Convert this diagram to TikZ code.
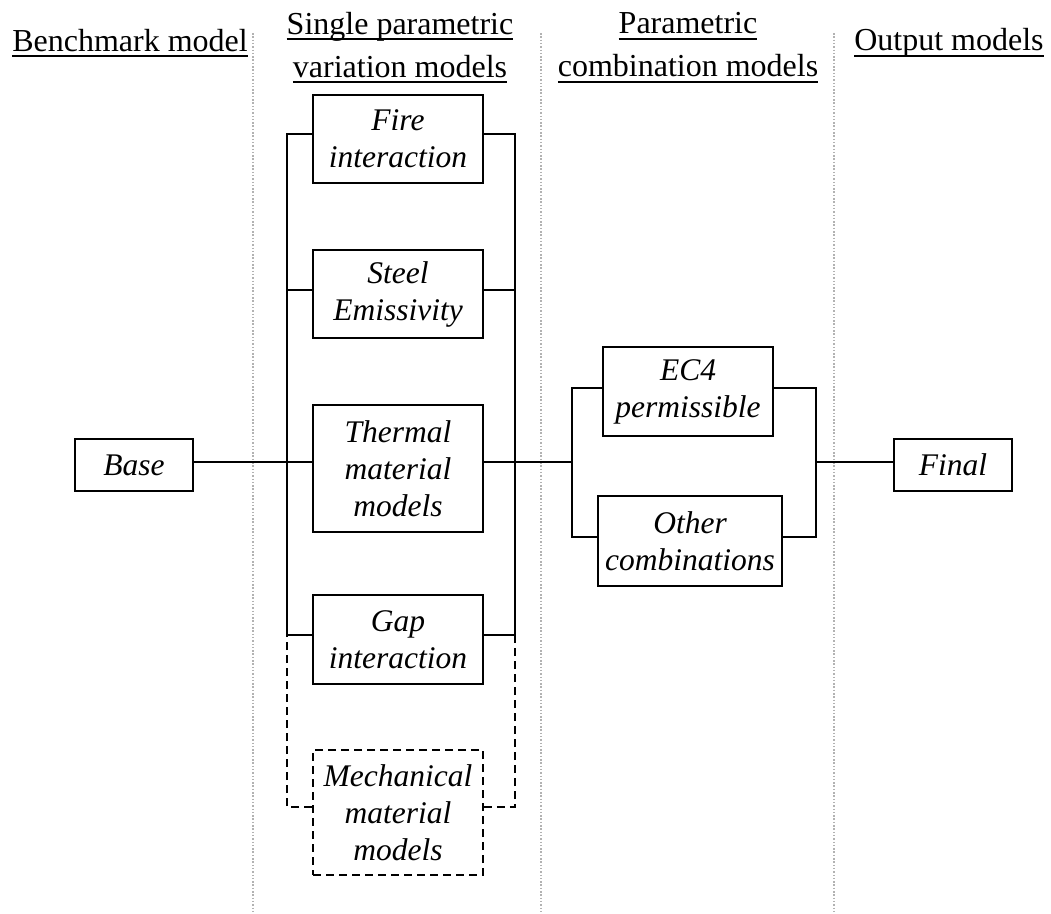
\documentclass[tikz,border=0pt]{standalone}
\usepackage{fontspec}
\setmainfont{Liberation Serif}
\newcommand\bxfont{\fontsize{31.5}{37}\selectfont\itshape}
\newcommand\myhdfont{\fontsize{32}{43}\selectfont}
\newcommand\hdul[1]{\setbox0\hbox{#1}\rlap{\rule[-6pt]{\wd0}{2pt}}\box0}
\begin{document}
\begin{tikzpicture}[x=1pt,y=-1pt,
  box/.style={draw, line width=1.9pt, font=\bxfont, align=center, inner sep=0pt},
  dbox/.style={box, dash pattern=on 8pt off 5pt},
  wire/.style={line width=1.9pt},
  dwire/.style={line width=1.9pt, dash pattern=on 8pt off 5pt},
  sep/.style={draw=gray!60, line width=1.5pt, dash pattern=on 1.5pt off 1.8pt},
  hd/.style={font=\myhdfont, align=center, inner sep=0pt}]
\useasboundingbox (0,0) rectangle (1051,913);

% separators
\draw[sep] (253,33) -- (253,913);
\draw[sep] (541,33) -- (541,913);
\draw[sep] (834,33) -- (834,913);

% headers
\node[hd] (h1) at (130,43) {\hdul{Benchmark model}};
\node[hd] (h2) at (400,47.5) {\hdul{Single parametric}\\\hdul{variation models}};
\node[hd] (h3) at (688,47.5) {\hdul{Parametric}\\\hdul{combination models}};
\node[hd] (h4) at (949,43) {\hdul{Output models}};

% boxes
\node[box, minimum width=118pt, minimum height=52pt] (base) at (134,465) {Base};
\node[box, minimum width=170pt, minimum height=88pt] (fire) at (398,139) {Fire\\interaction};
\node[box, minimum width=170pt, minimum height=88pt] (steel) at (398,294) {Steel\\Emissivity};
\node[box, minimum width=170pt, minimum height=127pt] (thermal) at (398,468.5) {Thermal\\material\\models};
\node[box, minimum width=170pt, minimum height=89pt] (gap) at (398,639.5) {Gap\\interaction};
\node[dbox, minimum width=170pt, minimum height=125pt] (mech) at (398,812.5) {Mechanical\\material\\models};
\node[box, minimum width=170pt, minimum height=89pt] (ec4) at (688,391.5) {EC4\\permissible};
\node[box, minimum width=184pt, minimum height=90pt] (other) at (690,541) {Other\\combinations};
\node[box, minimum width=118pt, minimum height=52pt] (final) at (953,465) {Final};

% bus coordinates
\coordinate (bl) at (287,462);
\coordinate (br) at (515,462);
\coordinate (gl) at (287,635);
\coordinate (gr) at (515,635);
\coordinate (cl) at (572,462);
\coordinate (cr) at (816,462);

% connectors
\draw[wire] ([yshift=3pt]base.east) -- (bl);
\draw[wire] ([yshift=5pt]fire.west) -| (bl);
\draw[wire] ([yshift=4pt]steel.west) -| (bl);
\draw[wire] ([yshift=6.5pt]thermal.west) -- (bl);
\draw[wire] ([yshift=4.5pt]gap.west) -| (bl);
\draw[wire] ([yshift=5pt]fire.east) -| (br);
\draw[wire] ([yshift=4pt]steel.east) -| (br);
\draw[wire] ([yshift=4.5pt]gap.east) -| (br);
\draw[wire] ([yshift=6.5pt]thermal.east) -- (br) -- (cl);
\draw[dwire] ([yshift=5.5pt]mech.west) -| (gl);
\draw[dwire] ([yshift=5.5pt]mech.east) -| (gr);
\draw[wire] ([yshift=3.5pt]ec4.west) -| (cl);
\draw[wire] ([yshift=4pt]other.west) -| (cl);
\draw[wire] ([yshift=3.5pt]ec4.east) -| (cr);
\draw[wire] ([yshift=4pt]other.east) -| (cr);
\draw[wire] (cr) -- ([yshift=3pt]final.west);
\end{tikzpicture}
\end{document}
